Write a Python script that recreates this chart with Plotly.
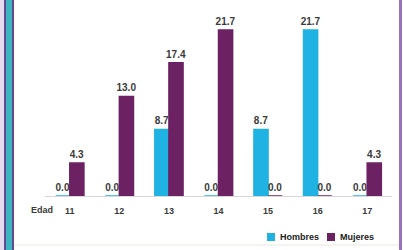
import plotly.graph_objects as go

edades = ["11", "12", "13", "14", "15", "16", "17"]
hombres = [0.0, 0.0, 8.7, 0.0, 8.7, 21.7, 0.0]
mujeres = [4.3, 13.0, 17.4, 21.7, 0.0, 0.0, 4.3]
series_names = ["Hombres", "Mujeres"]

W, H = 403, 250
ML, MR, MT, MB = 45, 11, 10, 54
PW, PH = W - ML - MR, H - MT - MB


def px(x):
    return (x - ML) / PW


def py(y):
    return (H - MB - y) / PH


FONT = "Liberation Sans"
CYAN = "#1fb2e3"
PURPLE = "#6c2262"

fig = go.Figure()
for name, vals, col in [(series_names[0], hombres, CYAN), (series_names[1], mujeres, PURPLE)]:
    fig.add_trace(go.Bar(
        x=edades, y=vals, name=name,
        marker=dict(color=col, line=dict(color=col, width=1.5)),
        texttemplate="<b>%{y:.1f}</b>", textposition="outside", constraintext="none",
        textfont=dict(size=10, color="#3a3a3a", family=FONT), cliponaxis=False,
        showlegend=False, hoverinfo="skip",
    ))


def band(x0, x1, color, border=None, bw=0):
    # frame stripe drawn as an empty annotation box
    return dict(text=" ", xref="paper", yref="paper", x=px((x0 + x1) / 2), y=py(H / 2),
                xanchor="center", yanchor="middle", showarrow=False,
                width=max(1, x1 - x0 - 2 * bw), height=H + 10,
                bgcolor=color, bordercolor=border or color, borderwidth=bw, borderpad=0,
                font=dict(size=1))


annotations = [
    band(0, 4, "#e6dcef"),
    band(4, 14, "#3fb4c0", border="#5f4a95", bw=2),
    band(399, 402, "#9a72c2"),
    dict(text="<b>Edad</b>", xref="paper", yref="paper", x=px(42), y=py(210),
         xanchor="center", yanchor="middle",
         showarrow=False, font=dict(size=9, color="#3a3a3a", family=FONT)),
    dict(text="<b>" + series_names[0] + "</b>", xref="paper", yref="paper", x=px(278), y=py(237),
         xanchor="left", yanchor="middle", showarrow=False,
         font=dict(size=9, color="#222", family=FONT)),
    dict(text="<b>" + series_names[1] + "</b>", xref="paper", yref="paper", x=px(338), y=py(237),
         xanchor="left", yanchor="middle", showarrow=False,
         font=dict(size=9, color="#222", family=FONT)),
]

shapes = [
    dict(type="line", xref="paper", yref="paper", x0=px(14), x1=px(399), y0=py(245), y1=py(245),
         line=dict(color="#ece8e0", width=1), layer="above"),
    # legend swatches
    dict(type="rect", xref="paper", yref="paper", x0=px(267), x1=px(275), y0=py(241), y1=py(233),
         fillcolor=CYAN, line_width=0, layer="above"),
    dict(type="rect", xref="paper", yref="paper", x0=px(327), x1=px(335), y0=py(241), y1=py(233),
         fillcolor=PURPLE, line_width=0, layer="above"),
]

fig.update_layout(
    width=W, height=H,
    margin=dict(l=ML, r=MR, t=MT, b=MB),
    paper_bgcolor="white", plot_bgcolor="white",
    barmode="group", bargap=0.43, bargroupgap=0.0,
    font=dict(family=FONT, color="#3a3a3a"),
    xaxis=dict(
        type="category", range=[-0.5, 6.5], showgrid=False,
        showline=True, linecolor="#d8d8d8", linewidth=1,
        ticks="outside", ticklen=6, tickcolor="rgba(0,0,0,0)",
        tickfont=dict(size=9, color="#3a3a3a", family=FONT),
        tickprefix="<b>", ticksuffix="</b>",
    ),
    yaxis=dict(range=[0, 24.3], visible=False, showgrid=False, zeroline=False),
    annotations=annotations,
    shapes=shapes,
    showlegend=False,
    hovermode=False,
)

fig.write_html(
    "out.html",
    config={"displayModeBar": False, "staticPlot": True},
    post_script="document.body.style.margin='0';document.body.style.overflow='hidden';",
)
